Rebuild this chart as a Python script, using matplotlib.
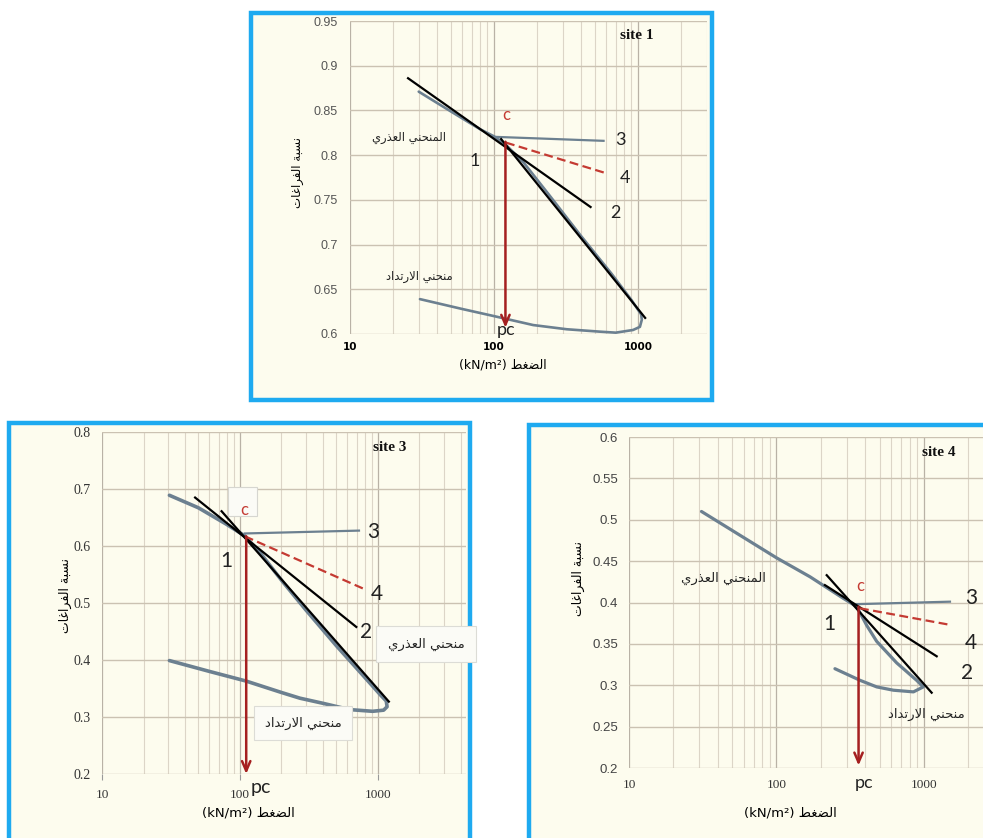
import matplotlib.pyplot as plt
from matplotlib.patches import Rectangle
from matplotlib.ticker import NullFormatter

plt.rcParams['font.family'] = ['DejaVu Sans']

# pressure (kN/m2) and void ratio
# site 1: virgin curve, loop and rebound as one path
s1_p = [30, 50, 80, 100, 120, 160, 240, 400, 650, 900, 1000, 1050, 1062, 1030, 923, 700, 545, 320, 187, 100, 60, 30.6]
s1_e = [0.871, 0.849, 0.829, 0.821, 0.812, 0.792, 0.756, 0.710, 0.668, 0.638, 0.627, 0.622, 0.616, 0.608, 0.6045, 0.6015, 0.6026, 0.6053, 0.610, 0.620, 0.628, 0.639]
s1_l1_p, s1_l1_e = [25.3, 468], [0.886, 0.742]
s1_l2_p, s1_l2_e = [112, 1120], [0.818, 0.618]
s1_l3_p, s1_l3_e = [100, 576], [0.8205, 0.816]
s1_l4_p, s1_l4_e = [121, 594], [0.814, 0.780]
s1_pc, s1_ec, s1_tip = 120, 0.815, 0.607

# site 3
s3_p = [30.8, 50, 80, 108, 140, 200, 300, 500, 800, 1050, 1150, 1165, 1100, 915, 623, 400, 272, 200, 111, 60, 30.8]
s3_e = [0.689, 0.667, 0.638, 0.618, 0.588, 0.540, 0.488, 0.425, 0.370, 0.338, 0.328, 0.318, 0.312, 0.310, 0.313, 0.324, 0.333, 0.343, 0.363, 0.380, 0.399]
s3_l1_p, s3_l1_e = [47.3, 697], [0.685, 0.458]
s3_l2_p, s3_l2_e = [73.6, 1200], [0.661, 0.327]
s3_l3_p, s3_l3_e = [108.6, 729], [0.622, 0.627]
s3_l4_p, s3_l4_e = [108.6, 787], [0.617, 0.525]
s3_pc, s3_ec, s3_tip = 111, 0.617, 0.2

# site 4
s4_p = [31, 100, 169, 284, 350, 410, 478, 653, 891, 989, 848, 620, 478, 368, 249]
s4_e = [0.510, 0.454, 0.431, 0.405, 0.395, 0.372, 0.353, 0.327, 0.306, 0.298, 0.292, 0.294, 0.298, 0.306, 0.320]
s4_l1_p, s4_l1_e = [213, 1219], [0.421, 0.335]
s4_l2_p, s4_l2_e = [219, 1127], [0.433, 0.291]
s4_l3_p, s4_l3_e = [350, 1500], [0.398, 0.401]
s4_l4_p, s4_l4_e = [368, 1500], [0.393, 0.373]
s4_pc, s4_ec, s4_tip = 360, 0.395, 0.203

s1_yticks = [0.6, 0.65, 0.7, 0.75, 0.8, 0.85, 0.9, 0.95]
s3_yticks = [0.2, 0.3, 0.4, 0.5, 0.6, 0.7, 0.8]
s4_yticks = [0.2, 0.25, 0.3, 0.35, 0.4, 0.45, 0.5, 0.55, 0.6]
xticks = [10, 100, 1000]


# matplotlib does no arabic shaping, so pick the presentation forms by hand
FORMS = {'ا': (0xFE8D, False), 'ب': (0xFE8F, True), 'ة': (0xFE93, False), 'ت': (0xFE95, True),
         'ح': (0xFEA1, True), 'د': (0xFEA9, False), 'ذ': (0xFEAB, False), 'ر': (0xFEAD, False),
         'س': (0xFEB1, True), 'ض': (0xFEBD, True), 'ط': (0xFEC1, True), 'ع': (0xFEC9, True),
         'غ': (0xFECD, True), 'ف': (0xFED1, True), 'ل': (0xFEDD, True), 'م': (0xFEE1, True),
         'ن': (0xFEE5, True), 'ي': (0xFEF1, True), 'لا': (0xFEFB, False)}


def shape_ar(text):
    chars = []
    i = 0
    while i < len(text):
        if text[i:i + 2] == 'لا':
            chars.append('لا')
            i += 2
        else:
            chars.append(text[i])
            i += 1
    out = []
    for k, ch in enumerate(chars):
        if ch not in FORMS:
            out.append(ch)
            continue
        base, dual = FORMS[ch]
        prev = chars[k - 1] if k > 0 else None
        nxt = chars[k + 1] if k + 1 < len(chars) else None
        jp = prev in FORMS and FORMS[prev][1]
        jn = dual and nxt in FORMS
        off = 3 if (jp and jn) else 1 if jp else 2 if jn else 0
        out.append(chr(base + off))
    return ''.join(reversed(out))


XLAB = '(kN/m²) ' + shape_ar('الضغط')
YLAB = shape_ar('نسبة الفراغات')
VIRGIN = shape_ar('المنحني العذري')
VIRGIN3 = shape_ar('منحني العذري')
REBOUND = shape_ar('منحني الارتداد')

CREAM = '#fdfcee'
BLUE = '#1eaaf0'
CURVE = '#6c8090'
RED = '#c43a32'
ARROW = '#a52020'
W, H = 983, 838

fig = plt.figure(figsize=(W / 100, H / 100), dpi=100)
fig.patch.set_facecolor('white')


def frame(x0, y0, x1, y1):
    fig.patches.append(Rectangle((x0 / W, 1 - y1 / H), (x1 - x0) / W, (y1 - y0) / H,
                                 transform=fig.transFigure, facecolor=CREAM,
                                 edgecolor=BLUE, lw=3.2, zorder=-5))


def panel(x0, y0, x1, y1, ylim, xmax, yticks):
    ax = fig.add_axes([x0 / W, 1 - y1 / H, (x1 - x0) / W, (y1 - y0) / H])
    ax.set_facecolor(CREAM)
    ax.set_xscale('log')
    ax.set_xlim(10, xmax)
    ax.set_ylim(*ylim)
    ax.set_xticks(xticks)
    ax.set_xticklabels([str(t) for t in xticks])
    ax.xaxis.set_minor_formatter(NullFormatter())
    ax.set_yticks(yticks)
    ax.set_yticklabels(['%g' % t for t in yticks])
    ax.grid(which='major', axis='y', color='#cbc2b2', lw=1.0)
    ax.grid(which='major', axis='x', color='#b9b2a6', lw=0.9)
    ax.grid(which='minor', axis='x', color='#dcd5c7', lw=0.8)
    ax.set_axisbelow(True)
    for s in ax.spines.values():
        s.set_visible(False)
    ax.tick_params(which='both', length=0)
    return ax


def draw(ax, p, e, lines, pc, ec, tip, lwc):
    ax.plot(p, e, color=CURVE, lw=lwc, solid_capstyle='round', solid_joinstyle='round', zorder=3)
    (a_p, a_e), (b_p, b_e), (g_p, g_e), (r_p, r_e) = lines
    ax.plot(a_p, a_e, color='black', lw=1.6, zorder=4)
    ax.plot(b_p, b_e, color='black', lw=1.6, zorder=4)
    ax.plot(g_p, g_e, color=CURVE, lw=1.6, zorder=3)
    ax.plot(r_p, r_e, color=RED, lw=1.6, ls=(0, (4, 2)), zorder=4)
    ax.annotate('', xy=(pc, tip), xytext=(pc, ec),
                arrowprops=dict(arrowstyle='->,head_length=0.7,head_width=0.3',
                                color=ARROW, lw=1.8, shrinkA=0, shrinkB=0), zorder=5)


num = dict(family=['Lato', 'DejaVu Sans'], color='#222222')
ar = dict(family=['DejaVu Sans'], color='#222222', ha='center', va='center')
serif_b = dict(family=['Liberation Serif'], weight='bold', color='#111111')

# ---------- site 1 ----------
frame(251, 13, 712, 400)
ax1 = panel(350, 21, 707, 334, (0.6, 0.95), 3010, s1_yticks)
draw(ax1, s1_p, s1_e, [(s1_l1_p, s1_l1_e), (s1_l2_p, s1_l2_e), (s1_l3_p, s1_l3_e), (s1_l4_p, s1_l4_e)],
     s1_pc, s1_ec, s1_tip, 1.9)
ax1.tick_params(axis='y', labelsize=9, labelcolor='#555555', pad=9)
ax1.tick_params(axis='x', labelsize=7.5, pad=6)
for t in ax1.get_xticklabels():
    t.set_fontweight('bold')
for t in ax1.get_yticklabels():
    t.set_family(['Liberation Sans'])
ax1.text(121, 0.845, 'c', color=RED, fontsize=12, ha='center', va='center', family=['Lato'])
ax1.text(74, 0.793, '1', fontsize=13, ha='center', va='center', **num)
ax1.text(697, 0.735, '2', fontsize=13, ha='center', va='center', **num)
ax1.text(755, 0.817, '3', fontsize=13, ha='center', va='center', **num)
ax1.text(808, 0.774, '4', fontsize=13, ha='center', va='center', **num)
ax1.text(121, 0.604, 'pc', fontsize=13, ha='center', va='center', clip_on=False, **num)
ax1.text(25.7, 0.820, VIRGIN, fontsize=8.3, **ar)
ax1.text(30.2, 0.664, REBOUND, fontsize=8.3, **ar)
ax1.text(980, 0.934, 'site 1', fontsize=11, ha='center', va='center', **serif_b)
fig.text(298 / W, 1 - 172 / H, YLAB, rotation=90, fontsize=8.5, ha='center', va='center', family=['DejaVu Sans'])
fig.text(503 / W, 1 - 365 / H, XLAB, fontsize=9, ha='center', va='center', family=['DejaVu Sans'])

# ---------- site 3 ----------
frame(9, 423, 470, 850)
ax3 = panel(102, 432, 466, 774, (0.2, 0.8), 4350, s3_yticks)
draw(ax3, s3_p, s3_e, [(s3_l1_p, s3_l1_e), (s3_l2_p, s3_l2_e), (s3_l3_p, s3_l3_e), (s3_l4_p, s3_l4_e)],
     s3_pc, s3_ec, s3_tip, 2.6)
ax3.tick_params(axis='y', labelsize=10, labelcolor='#333333', pad=8)
ax3.tick_params(axis='x', which='major', labelsize=9.5, labelcolor='#333333', pad=7, length=4, color='#999999')
for t in ax3.get_xticklabels() + ax3.get_yticklabels():
    t.set_family(['Liberation Serif'])
ax3.add_patch(Rectangle((82.4, 0.653), 132 - 82.4, 0.05, facecolor='#fbfbf6', edgecolor='#d6d6d0', lw=0.8, zorder=2))
ax3.text(107, 0.664, 'c', color=RED, fontsize=12, ha='center', va='center', family=['Lato'], zorder=6)
ax3.text(79, 0.573, '1', fontsize=15, ha='center', va='center', **num)
ax3.text(824, 0.45, '2', fontsize=15, ha='center', va='center', **num)
ax3.text(920, 0.625, '3', fontsize=15, ha='center', va='center', **num)
ax3.text(984, 0.515, '4', fontsize=15, ha='center', va='center', **num)
ax3.text(119, 0.176, 'pc', fontsize=14, ha='left', va='center', clip_on=False, **num)
ax3.text(2240, 0.428, VIRGIN3, fontsize=9.5, clip_on=False,
         bbox=dict(boxstyle='square,pad=0.9', facecolor='#fbfbf6', edgecolor='#dcdcd6', lw=0.8), **ar)
ax3.text(287, 0.2895, REBOUND, fontsize=9.5,
         bbox=dict(boxstyle='square,pad=0.8', facecolor='#fbfbf6', edgecolor='#dcdcd6', lw=0.8), **ar)
ax3.text(1213, 0.772, 'site 3', fontsize=11, ha='center', va='center', **serif_b)
fig.text(65 / W, 1 - 595 / H, YLAB, rotation=90, fontsize=9, ha='center', va='center', family=['DejaVu Sans'])
fig.text(248 / W, 1 - 813 / H, XLAB, fontsize=9.5, ha='center', va='center', family=['DejaVu Sans'])

# ---------- site 4 ----------
frame(529, 425, 995, 850)
ax4 = panel(629, 437, 983, 768, (0.2, 0.6), 2512, s4_yticks)
draw(ax4, s4_p, s4_e, [(s4_l1_p, s4_l1_e), (s4_l2_p, s4_l2_e), (s4_l3_p, s4_l3_e), (s4_l4_p, s4_l4_e)],
     s4_pc, s4_ec, s4_tip, 2.3)
ax4.tick_params(axis='y', labelsize=9.5, labelcolor='#444444', pad=8)
ax4.tick_params(axis='x', labelsize=9.5, labelcolor='#333333', pad=8)
for t in ax4.get_yticklabels():
    t.set_family(['Liberation Sans'])
for t in ax4.get_xticklabels():
    t.set_family(['Liberation Serif'])
ax4.text(368, 0.42, 'c', color=RED, fontsize=12, ha='center', va='center', family=['Lato'])
ax4.text(227, 0.374, '1', fontsize=15, ha='center', va='center', **num)
ax4.text(1950, 0.315, '2', fontsize=15, ha='center', va='center', **num)
ax4.text(2075, 0.406, '3', fontsize=15, ha='center', va='center', **num)
ax4.text(2075, 0.351, '4', fontsize=15, ha='center', va='center', **num)
ax4.text(392, 0.182, 'pc', fontsize=13, ha='center', va='center', clip_on=False, **num)
ax4.text(44, 0.4288, VIRGIN, fontsize=9.5, **ar)
ax4.text(1043, 0.2645, REBOUND, fontsize=9.5, **ar)
ax4.text(1250, 0.5807, 'site 4', fontsize=11, ha='center', va='center', **serif_b)
fig.text(578 / W, 1 - 578 / H, YLAB, rotation=90, fontsize=9, ha='center', va='center', family=['DejaVu Sans'])
fig.text(790 / W, 1 - 813 / H, XLAB, fontsize=9.5, ha='center', va='center', family=['DejaVu Sans'])

fig.savefig('out.png', dpi=100, facecolor='white')
